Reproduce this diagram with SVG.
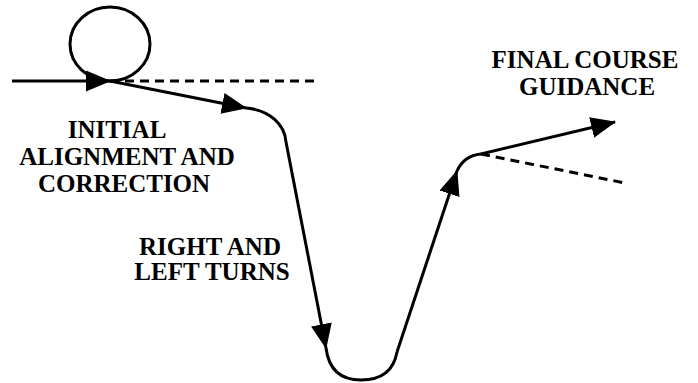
<svg xmlns="http://www.w3.org/2000/svg" width="698" height="383" viewBox="0 0 698 383">
<style>
.p{fill:none;stroke:#000;stroke-width:3;stroke-linecap:butt;stroke-linejoin:round}
.d{fill:none;stroke:#000;stroke-width:3;stroke-dasharray:9,6}
.t{font-family:"Liberation Serif","Times New Roman",serif;font-weight:bold;font-size:25px;fill:#000;text-anchor:middle}
</style>
<defs>
<marker id="ah" markerUnits="userSpaceOnUse" markerWidth="25" markerHeight="21" refX="24" refY="10.5" orient="auto" viewBox="0 0 25 21">
<path d="M0,0 L25,10.5 L0,21 z" fill="#000"/>
</marker>
</defs>
<rect width="698" height="383" fill="#fff"/>
<g id="loop">
<ellipse cx="110" cy="44" rx="40" ry="37" class="p"/>
</g>
<g id="connectors">
<path class="p" d="M12,81 L110,81" marker-end="url(#ah)"/>
<path class="d" d="M110,81 L316,81"/>
<path class="p" d="M110,81 L246,108" marker-end="url(#ah)"/>
<path class="p" d="M246,108 C270,110 285,125 286,142"/>
<path class="p" d="M286,142 L326,348" marker-end="url(#ah)"/>
<path class="p" d="M326,348 Q330,380 361,380 Q392,380 397,352"/>
<path class="p" d="M397,352 L457,171" marker-end="url(#ah)"/>
<path class="p" d="M457,171 C462,160 470,155 481,154"/>
<path class="p" d="M481,154 L615,122" marker-end="url(#ah)"/>
<path class="d" d="M481,154 L625,183"/>
</g>
<g id="label-initial">
<text class="t" x="117" y="138">INITIAL</text>
<text class="t" x="127" y="165">ALIGNMENT AND</text>
<text class="t" x="124" y="192">CORRECTION</text>
</g>
<g id="label-turns">
<text class="t" x="210" y="255">RIGHT AND</text>
<text class="t" x="212" y="280">LEFT TURNS</text>
</g>
<g id="label-final">
<text class="t" x="585" y="68">FINAL COURSE</text>
<text class="t" x="587" y="95">GUIDANCE</text>
</g>
</svg>
